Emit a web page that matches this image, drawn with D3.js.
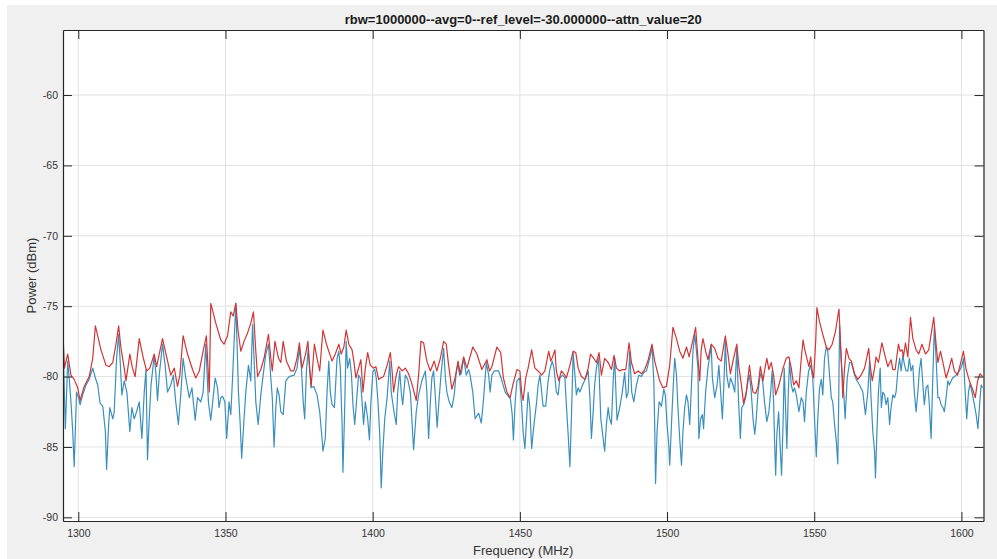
<!DOCTYPE html>
<html>
<head>
<meta charset="utf-8">
<script src="https://cdn.jsdelivr.net/npm/d3@7"></script>
<style>
  html, body { margin: 0; padding: 0; background: #ffffff; }
  svg { display: block; font-family: "Liberation Sans", Arial, Helvetica, sans-serif; }
</style>
</head>
<body>
<svg id="chart" width="997" height="559"></svg>
<script>
// ---- chart text ----
const titleText = "rbw=1000000--avg=0--ref_level=-30.000000--attn_value=20";
const xLabelText = "Frequency (MHz)";
const yLabelText = "Power (dBm)";

// ---- axes ----
const xTicks = [1300, 1350, 1400, 1450, 1500, 1550, 1600];
const yTicks = [-90, -85, -80, -75, -70, -65, -60];
const xDomain = [1294.8, 1607.5];
const yDomain = [-90.26, -55.38];

// ---- max-hold trace (red): frequency in MHz, power in dBm ----
const redFreq = [
  1294.8,1295.3,1296.4,1297.5,1298.6,1299.8,1300.6,1302.0,1303.7,1304.9,1305.8,1307.7,1309.4,1310.5,1311.7,1312.8,1313.7,1314.5,1315.6,1316.2,
  1317.5,1318.4,1319.3,1320.7,1322.1,1323.2,1324.3,1325.8,1326.6,1327.5,1328.6,1329.8,1331.4,1332.6,1333.7,1334.5,1335.6,1337.1,1338.8,1339.9,
  1341.1,1342.4,1343.5,1344.5,1345.0,1346.7,1348.4,1349.5,1350.7,1351.8,1352.6,1353.5,1354.3,1355.2,1356.3,1357.5,1358.6,1359.5,1360.3,1360.9,
  1362.0,1363.1,1364.6,1365.4,1365.9,1366.8,1368.0,1368.8,1369.6,1370.7,1372.2,1373.2,1374.3,1375.1,1376.0,1377.2,1378.0,1378.6,1379.1,1380.2,
  1381.1,1382.0,1383.1,1384.3,1386.2,1387.3,1388.5,1389.3,1390.2,1391.0,1391.9,1393.0,1393.6,1394.3,1395.2,1396.0,1396.7,1397.5,1398.3,1399.2,
  1400.3,1401.1,1402.0,1403.7,1404.9,1406.0,1406.6,1407.1,1408.0,1408.8,1410.0,1411.1,1412.2,1413.3,1414.8,1415.6,1416.4,1417.3,1418.4,1419.6,
  1420.9,1421.8,1423.0,1424.1,1425.0,1425.8,1426.9,1428.0,1429.0,1429.7,1430.9,1432.0,1434.0,1435.4,1437.1,1438.8,1439.7,1440.5,1442.2,1443.5,
  1444.4,1445.6,1446.7,1447.6,1449.0,1450.0,1450.6,1451.1,1452.0,1452.8,1454.0,1455.1,1456.2,1457.4,1458.5,1459.8,1460.5,1461.1,1461.9,1462.4,
  1463.2,1464.1,1465.3,1465.8,1467.0,1468.1,1469.0,1469.8,1470.9,1472.1,1473.2,1474.0,1475.1,1476.0,1476.9,1477.7,1478.8,1480.0,1481.1,1482.0,
  1482.8,1483.9,1484.8,1486.0,1487.1,1487.9,1489.0,1490.2,1491.3,1492.4,1493.5,1494.9,1495.8,1497.5,1498.6,1499.8,1500.9,1502.0,1503.2,1504.3,
  1505.4,1506.6,1507.5,1508.8,1509.7,1510.5,1511.1,1511.6,1512.2,1513.1,1513.9,1515.0,1516.2,1517.3,1518.4,1519.8,1520.7,1521.5,1522.4,1523.7,
  1524.4,1525.2,1526.0,1526.9,1528.0,1528.6,1529.2,1530.1,1530.9,1531.7,1532.6,1533.1,1533.9,1534.6,1535.4,1536.2,1536.9,1538.0,1539.4,1540.5,
  1541.4,1542.2,1543.0,1543.9,1544.8,1545.6,1546.2,1546.7,1547.5,1548.2,1548.8,1549.3,1549.8,1550.5,1550.9,1551.8,1552.9,1554.1,1555.0,1556.1,
  1557.2,1558.4,1559.2,1559.7,1560.3,1560.9,1561.8,1562.6,1563.7,1564.8,1565.9,1567.1,1568.5,1569.0,1569.7,1570.5,1571.0,1571.8,1573.0,1573.9,
  1575.0,1576.1,1576.7,1577.5,1578.6,1579.2,1579.9,1580.3,1581.0,1581.8,1582.7,1583.5,1584.6,1585.5,1586.6,1587.8,1588.9,1590.6,1591.4,1592.0,
  1592.9,1593.7,1594.8,1595.7,1596.7,1597.6,1598.7,1599.9,1600.7,1601.6,1602.7,1603.8,1604.7,1605.5,1606.3,1607.2
];
const redPower = [
  -77.0,-79.4,-78.4,-79.9,-80.2,-80.8,-81.7,-80.7,-80.0,-78.7,-76.4,-78.1,-79.2,-79.3,-79.0,-77.7,-76.4,-78.0,-79.4,-80.3,
  -78.4,-79.4,-80.0,-77.3,-78.7,-79.6,-79.4,-78.4,-79.3,-78.4,-77.3,-78.4,-79.9,-79.4,-80.7,-79.9,-77.1,-78.4,-79.5,-80.1,
  -79.6,-78.2,-77.1,-81.1,-74.8,-76.2,-77.4,-77.7,-77.1,-75.4,-75.7,-74.8,-76.8,-78.2,-77.5,-76.9,-76.2,-75.4,-78.2,-80.0,
  -79.5,-78.7,-77.0,-78.7,-79.6,-77.5,-78.7,-79.0,-77.5,-78.9,-79.6,-79.6,-78.7,-77.6,-79.4,-78.4,-77.5,-79.4,-80.7,-77.7,
  -78.7,-79.6,-76.7,-77.7,-78.9,-78.4,-77.7,-78.4,-77.9,-76.7,-77.7,-78.1,-78.9,-80.1,-79.4,-78.8,-81.1,-79.4,-78.3,-79.2,
  -79.4,-79.3,-80.2,-80.0,-79.2,-78.3,-79.6,-81.1,-79.9,-79.3,-79.6,-79.4,-79.8,-80.5,-81.7,-79.9,-77.5,-77.6,-78.9,-79.6,
  -78.9,-79.6,-78.7,-77.5,-77.7,-79.2,-80.9,-80.1,-78.9,-79.8,-78.6,-79.4,-77.9,-78.4,-79.5,-78.8,-79.6,-79.3,-77.9,-78.3,
  -80.1,-81.1,-81.5,-80.6,-79.5,-79.6,-81.1,-81.7,-80.1,-79.4,-78.1,-79.4,-79.6,-79.9,-79.6,-78.2,-78.9,-78.6,-78.1,-79.6,
  -80.3,-79.6,-79.9,-80.1,-79.2,-78.2,-78.3,-79.4,-80.0,-80.2,-79.4,-78.4,-78.7,-79.0,-78.3,-79.9,-78.7,-79.0,-79.5,-78.5,
  -79.4,-79.6,-79.5,-79.5,-77.6,-79.0,-79.8,-79.6,-79.8,-79.5,-78.9,-77.7,-78.9,-80.3,-80.8,-80.7,-79.2,-76.5,-77.3,-78.2,
  -78.7,-77.9,-78.6,-77.4,-76.5,-78.7,-80.3,-78.1,-77.3,-78.2,-78.8,-77.7,-78.0,-78.7,-78.9,-77.1,-78.4,-79.8,-78.9,-77.7,
  -79.3,-80.5,-81.9,-81.1,-79.2,-80.3,-81.1,-81.2,-80.7,-79.3,-80.3,-79.6,-78.7,-79.5,-79.0,-79.9,-81.3,-80.6,-79.4,-78.7,
  -78.6,-79.4,-80.6,-80.3,-80.8,-78.7,-77.4,-78.0,-78.7,-79.3,-78.6,-79.6,-80.1,-77.5,-75.1,-76.1,-77.0,-77.9,-78.1,-77.7,
  -76.8,-75.2,-78.7,-81.5,-79.4,-78.0,-78.7,-78.9,-79.8,-80.2,-79.9,-79.4,-78.0,-79.2,-80.3,-79.4,-78.6,-79.0,-77.6,-78.4,
  -79.3,-78.8,-79.5,-79.5,-77.7,-78.2,-78.1,-78.6,-77.6,-78.6,-75.8,-77.3,-78.1,-78.4,-77.7,-78.4,-78.1,-75.8,-77.7,-79.0,
  -78.2,-79.0,-80.1,-79.5,-78.7,-79.6,-79.9,-78.9,-78.2,-79.5,-80.3,-80.9,-81.5,-80.3,-79.8,-80.0
];

// ---- current sweep trace (blue): frequency in MHz, power in dBm ----
const blueFreq = [
  1294.8,1295.6,1296.4,1296.9,1297.5,1298.1,1298.6,1299.4,1300.1,1300.6,1301.5,1302.6,1303.7,1304.9,1305.8,1306.6,1307.4,1308.3,1309.2,1309.6,
  1310.3,1310.7,1311.7,1312.2,1313.0,1313.7,1314.3,1314.8,1315.6,1316.5,1317.5,1318.2,1319.0,1319.8,1320.7,1321.6,1322.4,1323.0,1323.5,1324.1,
  1324.7,1325.8,1326.4,1326.9,1327.5,1328.6,1329.5,1330.3,1331.4,1332.3,1333.1,1334.0,1334.8,1335.6,1336.5,1337.7,1338.6,1339.7,1340.5,1341.6,
  1342.4,1343.3,1344.2,1345.0,1345.8,1346.5,1347.3,1347.8,1348.4,1349.0,1349.8,1350.4,1351.2,1351.8,1352.4,1353.5,1353.9,1354.4,1355.0,1355.5,
  1356.3,1356.9,1357.8,1358.6,1359.2,1359.7,1360.3,1361.1,1362.0,1362.8,1363.7,1364.6,1365.4,1365.9,1366.5,1367.1,1367.6,1368.2,1368.8,1369.6,
  1370.5,1371.6,1373.3,1374.3,1375.1,1375.8,1376.4,1376.9,1377.5,1378.1,1378.6,1379.1,1380.0,1381.1,1382.0,1382.8,1383.1,1383.9,1384.5,1385.1,
  1385.6,1386.2,1387.0,1387.9,1388.5,1389.0,1389.6,1389.9,1390.4,1391.0,1391.5,1392.2,1392.8,1393.3,1393.9,1394.5,1395.2,1395.8,1396.4,1396.9,
  1397.5,1398.3,1398.9,1399.4,1400.1,1400.7,1401.2,1401.8,1402.4,1402.9,1403.5,1404.1,1404.9,1405.8,1406.3,1406.9,1407.4,1408.0,1408.5,1409.2,
  1409.7,1410.2,1411.1,1411.9,1412.8,1413.3,1413.9,1414.8,1415.6,1416.7,1417.9,1418.4,1419.0,1419.6,1420.1,1420.7,1421.3,1421.9,1422.5,1423.2,
  1424.1,1424.7,1425.2,1426.0,1426.9,1427.7,1428.3,1429.0,1429.5,1430.1,1430.9,1431.8,1432.6,1433.1,1434.0,1434.8,1436.0,1436.9,1437.7,1438.6,
  1439.4,1439.9,1440.5,1441.3,1442.8,1443.9,1445.0,1446.1,1446.8,1447.4,1447.8,1448.4,1449.0,1449.9,1450.6,1451.1,1451.7,1452.3,1452.8,1453.4,
  1454.0,1454.8,1455.7,1456.2,1456.8,1457.4,1457.9,1458.8,1459.6,1460.2,1461.0,1461.6,1462.4,1463.0,1463.6,1464.5,1465.3,1465.8,1466.4,1467.0,
  1467.5,1468.1,1468.7,1469.2,1469.8,1470.4,1471.3,1472.4,1473.2,1473.8,1474.3,1474.9,1475.4,1476.0,1476.6,1476.9,1477.5,1478.0,1478.8,1479.4,
  1480.0,1480.5,1481.1,1481.7,1482.2,1483.0,1483.9,1484.8,1485.6,1486.2,1486.8,1487.3,1488.0,1488.7,1489.6,1490.4,1491.3,1492.1,1493.0,1494.1,
  1494.9,1495.5,1495.8,1496.1,1496.6,1497.3,1498.1,1498.9,1499.4,1500.0,1500.6,1500.9,1501.5,1502.0,1502.6,1503.2,1503.7,1504.3,1504.9,1505.4,
  1506.0,1506.6,1507.1,1507.7,1508.2,1508.8,1509.4,1509.9,1510.5,1510.8,1511.4,1512.0,1512.4,1513.1,1513.9,1515.0,1515.4,1516.2,1517.0,1517.6,
  1518.2,1518.8,1519.3,1519.8,1520.3,1521.0,1521.6,1522.4,1523.0,1523.7,1524.3,1524.9,1525.4,1526.0,1526.7,1527.5,1528.0,1528.6,1529.2,1529.8,
  1530.3,1530.9,1531.5,1532.0,1532.6,1533.1,1533.9,1534.6,1535.2,1535.7,1536.2,1536.5,1536.9,1537.3,1537.9,1538.5,1538.9,1539.4,1539.8,1540.3,
  1540.7,1541.2,1541.6,1542.2,1542.8,1543.3,1543.9,1544.8,1545.6,1546.2,1546.7,1547.3,1548.1,1548.8,1549.5,1550.1,1550.7,1551.2,1551.8,1552.4,
  1552.9,1553.5,1554.1,1554.6,1555.2,1555.8,1556.3,1556.9,1557.5,1558.0,1558.3,1558.6,1559.1,1560.0,1560.5,1561.2,1562.0,1562.6,1563.7,1564.5,
  1565.4,1566.5,1567.4,1568.2,1568.8,1569.3,1569.9,1570.5,1570.8,1571.3,1571.8,1572.4,1572.8,1573.3,1573.9,1574.4,1575.0,1575.6,1576.1,1576.7,
  1577.3,1577.8,1578.4,1579.0,1579.5,1580.1,1580.7,1581.2,1581.8,1582.3,1582.9,1583.5,1584.0,1584.6,1585.2,1585.7,1586.3,1586.9,1587.4,1588.0,
  1588.6,1589.1,1589.7,1590.3,1590.8,1591.4,1592.0,1592.5,1593.1,1593.7,1594.2,1594.8,1595.4,1595.9,1597.0,1598.2,1599.3,1600.2,1600.7,1601.2,
  1601.8,1602.4,1602.9,1603.6,1604.4,1605.0,1605.6,1606.1,1606.7,1607.2
];
const bluePower = [
  -77.5,-83.7,-78.9,-80.1,-81.8,-83.9,-86.4,-81.1,-81.5,-82.0,-81.3,-80.6,-80.2,-79.4,-80.1,-80.6,-81.9,-82.1,-83.9,-86.6,
  -83.4,-82.2,-83.0,-82.5,-78.7,-77.0,-79.2,-81.3,-80.3,-81.1,-83.9,-82.2,-83.0,-82.5,-81.8,-84.4,-81.1,-79.5,-85.9,-83.0,
  -80.6,-78.5,-79.9,-81.7,-79.9,-77.7,-79.2,-81.1,-80.6,-79.9,-81.8,-83.4,-81.3,-78.7,-80.1,-81.5,-80.8,-83.1,-81.5,-81.8,
  -81.1,-77.7,-81.8,-83.1,-81.5,-80.1,-80.8,-82.2,-81.5,-81.4,-81.8,-84.4,-81.8,-82.7,-80.1,-74.8,-77.5,-81.1,-83.4,-85.8,
  -83.0,-81.1,-79.2,-80.3,-76.3,-78.7,-81.8,-83.4,-81.3,-79.9,-78.4,-77.7,-80.1,-81.5,-85.0,-82.2,-80.8,-81.3,-82.5,-82.7,
  -80.3,-80.0,-79.9,-79.4,-78.0,-79.4,-81.8,-83.0,-79.6,-78.0,-79.6,-80.8,-80.7,-81.3,-82.5,-84.4,-85.3,-84.4,-81.1,-78.9,
  -81.1,-82.0,-82.2,-78.7,-78.2,-79.4,-83.4,-86.8,-83.0,-77.5,-79.4,-78.7,-79.9,-82.0,-83.4,-81.8,-79.9,-80.1,-81.8,-83.4,
  -81.8,-83.0,-84.5,-81.8,-79.6,-79.5,-80.1,-81.8,-84.1,-87.9,-85.1,-83.0,-81.5,-78.9,-81.1,-82.0,-82.7,-83.4,-81.1,-79.6,
  -81.1,-82.0,-79.9,-80.2,-81.1,-83.0,-85.2,-82.5,-81.3,-80.3,-79.6,-81.1,-84.4,-81.8,-80.1,-79.6,-81.5,-83.6,-81.8,-79.9,
  -78.0,-80.1,-81.1,-81.8,-82.2,-81.3,-79.9,-79.0,-79.9,-79.8,-78.7,-79.9,-79.5,-79.9,-81.1,-83.0,-82.6,-83.3,-81.5,-79.0,
  -79.9,-81.1,-79.9,-79.6,-79.6,-80.3,-81.1,-81.4,-81.6,-82.7,-84.5,-81.8,-80.3,-80.1,-82.0,-83.9,-85.1,-83.0,-81.1,-82.2,
  -85.1,-83.4,-81.8,-80.6,-79.9,-81.1,-82.1,-82.1,-80.3,-79.5,-78.9,-79.4,-81.1,-81.3,-80.1,-79.9,-80.1,-82.0,-84.1,-86.4,
  -83.0,-78.3,-79.9,-81.3,-80.8,-81.1,-80.6,-80.1,-79.6,-81.5,-84.4,-82.5,-80.6,-79.4,-78.7,-79.6,-83.0,-83.9,-85.3,-83.4,
  -82.2,-83.0,-83.4,-80.3,-78.7,-83.1,-82.2,-81.1,-79.7,-81.5,-81.1,-78.2,-81.1,-81.8,-80.6,-79.9,-80.0,-79.7,-79.6,-78.7,
  -77.9,-80.3,-83.4,-87.6,-83.9,-81.8,-82.1,-80.9,-81.3,-83.4,-84.9,-86.3,-83.4,-81.1,-78.7,-79.9,-82.2,-84.4,-86.3,-83.9,
  -82.2,-81.3,-81.8,-83.4,-81.1,-78.2,-77.0,-78.0,-79.4,-84.4,-83.0,-82.7,-83.7,-81.1,-79.4,-77.8,-80.1,-81.5,-80.6,-79.2,
  -81.1,-83.0,-80.6,-77.5,-79.9,-80.8,-80.1,-80.6,-81.1,-78.0,-81.8,-84.4,-82.2,-82.0,-81.5,-80.3,-79.9,-81.1,-83.0,-84.1,
  -83.0,-81.1,-80.1,-79.7,-80.6,-81.8,-83.2,-82.5,-81.1,-79.6,-81.8,-84.4,-87.0,-84.1,-82.5,-85.3,-87.0,-83.4,-79.4,-82.5,
  -85.1,-81.1,-78.9,-80.6,-81.1,-80.8,-81.3,-82.5,-81.5,-81.8,-83.2,-81.1,-79.6,-79.2,-80.1,-83.0,-85.7,-83.0,-80.8,-80.2,
  -81.3,-78.7,-77.9,-78.2,-79.9,-81.5,-81.8,-83.4,-84.6,-86.2,-82.0,-76.4,-78.8,-81.1,-83.0,-80.1,-79.0,-79.0,-79.9,-80.3,
  -80.6,-81.1,-82.7,-81.1,-78.9,-81.5,-83.9,-85.3,-87.2,-83.9,-81.1,-79.4,-82.2,-81.1,-81.3,-82.0,-81.5,-83.4,-82.2,-81.3,
  -81.5,-81.1,-79.6,-78.7,-79.6,-78.5,-79.2,-79.6,-79.6,-78.7,-79.6,-79.2,-81.1,-82.5,-81.1,-79.6,-78.7,-80.6,-82.0,-80.8,
  -80.6,-82.0,-84.4,-79.9,-76.5,-78.7,-81.5,-81.5,-82.0,-82.2,-82.5,-81.5,-80.3,-80.6,-80.1,-79.9,-79.6,-79.2,-78.7,-80.8,
  -83.0,-81.1,-80.5,-81.1,-82.0,-82.7,-83.7,-82.2,-80.6,-80.8
];

// ---- layout ----
const W = 997, H = 559;
const plot = { left: 63, right: 983.5, top: 30, bottom: 521 };
const axisColor = "#262626";
const gridColor = "#e2e2e2";
const redColor = "#d03636";
const blueColor = "#3a8fbf";

const svg = d3.select("#chart");

// figure background
svg.append("rect").attr("x", 7).attr("y", 5).attr("width", W - 7).attr("height", H - 5)
  .attr("fill", "#f0f0f0");

// axes background
svg.append("rect")
  .attr("x", plot.left).attr("y", plot.top)
  .attr("width", plot.right - plot.left).attr("height", plot.bottom - plot.top)
  .attr("fill", "#ffffff");

const x = d3.scaleLinear().domain(xDomain).range([plot.left, plot.right]);
const y = d3.scaleLinear().domain(yDomain).range([plot.bottom, plot.top]);

// grid
const grid = svg.append("g").attr("stroke", gridColor).attr("stroke-width", 1);
grid.selectAll("line.vx").data(xTicks).join("line")
  .attr("x1", d => x(d)).attr("x2", d => x(d))
  .attr("y1", plot.top).attr("y2", plot.bottom);
grid.selectAll("line.hy").data(yTicks).join("line")
  .attr("x1", plot.left).attr("x2", plot.right)
  .attr("y1", d => y(d)).attr("y2", d => y(d));

// traces
svg.append("clipPath").attr("id", "plotClip").append("rect")
  .attr("x", plot.left).attr("y", plot.top)
  .attr("width", plot.right - plot.left).attr("height", plot.bottom - plot.top);

const line = d3.line().x(d => x(d[0])).y(d => y(d[1]));
const bluePts = blueFreq.map((f, i) => [f, bluePower[i]]);
const redPts = redFreq.map((f, i) => [f, redPower[i]]);

const traces = svg.append("g").attr("clip-path", "url(#plotClip)");
traces.append("path").datum(bluePts)
  .attr("fill", "none").attr("stroke", blueColor).attr("stroke-width", 1.2)
  .attr("stroke-linejoin", "round").attr("d", line);
traces.append("path").datum(redPts)
  .attr("fill", "none").attr("stroke", redColor).attr("stroke-width", 1.2)
  .attr("stroke-linejoin", "round").attr("d", line);

// axes with inward ticks (box on all four sides)
const tickLen = 9;
function styleAxis(g) {
  g.select(".domain").attr("stroke", axisColor).attr("stroke-width", 1.2);
  g.selectAll(".tick line").attr("stroke", axisColor).attr("stroke-width", 1);
  g.selectAll(".tick text").attr("fill", "#333333").attr("font-size", "10.5px")
    .attr("font-family", "'Liberation Sans', Arial, sans-serif");
}
const fmt = d => String(d);

svg.append("g").attr("transform", `translate(0,${plot.bottom})`)
  .call(d3.axisBottom(x).tickValues(xTicks).tickFormat(fmt).tickSize(-tickLen).tickSizeOuter(0).tickPadding(9))
  .call(styleAxis);
svg.append("g").attr("transform", `translate(0,${plot.top})`)
  .call(d3.axisTop(x).tickValues(xTicks).tickFormat("").tickSize(-tickLen).tickSizeOuter(0))
  .call(styleAxis);
svg.append("g").attr("transform", `translate(${plot.left},0)`)
  .call(d3.axisLeft(y).tickValues(yTicks).tickFormat(fmt).tickSize(-tickLen).tickSizeOuter(0).tickPadding(5))
  .call(styleAxis);
svg.append("g").attr("transform", `translate(${plot.right},0)`)
  .call(d3.axisRight(y).tickValues(yTicks).tickFormat("").tickSize(-tickLen).tickSizeOuter(0))
  .call(styleAxis);

// title and axis labels
const cx = (plot.left + plot.right) / 2;
svg.append("text").attr("x", cx).attr("y", 23.5)
  .attr("text-anchor", "middle").attr("font-size", "13px").attr("font-weight", "bold")
  .attr("fill", "#1a1a1a").text(titleText);
svg.append("text").attr("x", cx).attr("y", 555)
  .attr("text-anchor", "middle").attr("font-size", "13px")
  .attr("fill", "#333333").text(xLabelText);
svg.append("text")
  .attr("transform", `translate(35.5,${(plot.top + plot.bottom) / 2}) rotate(-90)`)
  .attr("text-anchor", "middle").attr("font-size", "13px")
  .attr("fill", "#333333").text(yLabelText);
</script>
</body>
</html>
